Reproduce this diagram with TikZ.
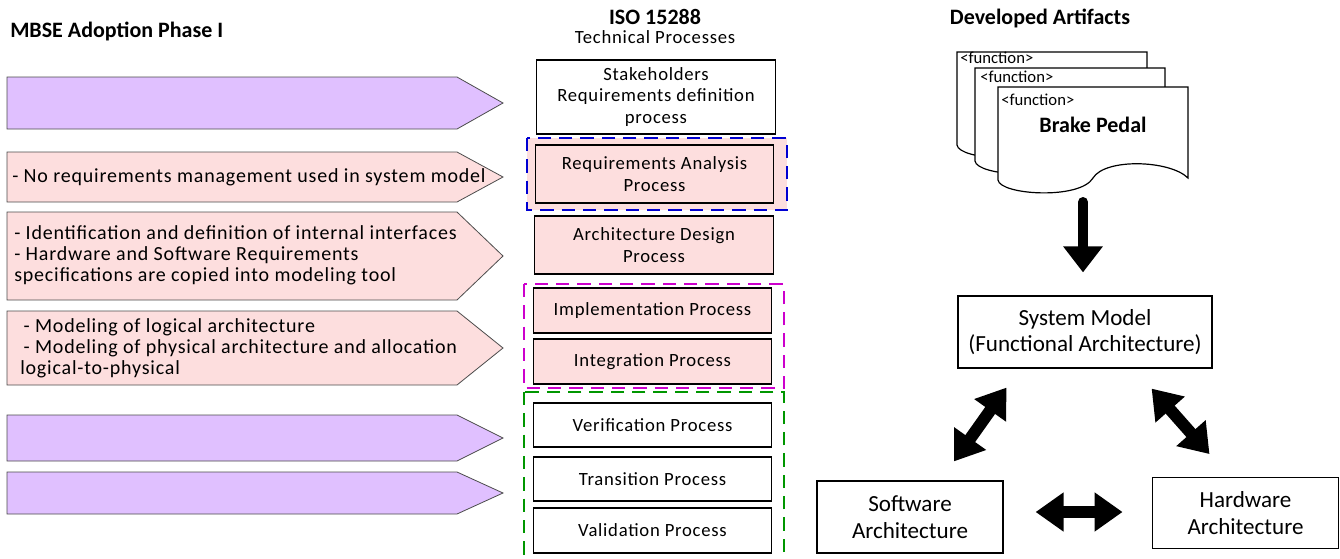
\documentclass[tikz,border=0pt]{standalone}
\usepackage{fontspec}
\setmainfont{Carlito}
\newfontfamily\wide{Carlito}[LetterSpace=4.0]
\usetikzlibrary{arrows.meta,calc}

\definecolor{phasepurple}{RGB}{224,192,255}
\definecolor{phasepink}{RGB}{253,222,222}
\definecolor{grpblue}{RGB}{0,0,210}
\definecolor{grpmagenta}{RGB}{204,0,204}
\definecolor{grpgreen}{RGB}{0,150,0}

\newcommand\headfont{\bfseries\fontsize{16.5}{19}\selectfont}
\newcommand\notefont{\wide\fontsize{15}{15.8}\selectfont}
\newcommand\procfont{\wide\fontsize{14}{16.2}\selectfont}
\newcommand\artfont{\fontsize{17.3}{20}\selectfont}

\begin{document}
\begin{tikzpicture}[x=0.75pt, y=-0.75pt,
    procbox/.style={draw, line width=0.9pt, minimum width=179pt, align=center, font=\procfont, inner sep=2pt},
    artbox/.style={draw, line width=0.9pt, align=center, font=\artfont},
    note/.style={anchor=west, align=left, inner sep=0pt, font=\notefont},
    group/.style={line width=1.1pt, dash pattern=on 10pt off 6pt},
    bigarrow/.style={line width=9pt, {Triangle[length=21pt,width=28pt]}-{Triangle[length=21pt,width=28pt]}}]
    \useasboundingbox (0,0) rectangle (1340,558);

    % phase arrows on the left
    \foreach \top/\bot/\col in {77/129/phasepurple, 152/202/phasepink, 212/300/phasepink,
                                311/385/phasepink, 415/461/phasepurple, 472/514/phasepurple}
        \draw[black!70, line width=0.6pt, fill=\col]
            (7,\top) -- (457,\top) -- (503,{(\top+\bot)/2}) -- (457,\bot) -- (7,\bot) -- cycle;

    \node[anchor=west, inner sep=0pt, font=\headfont] (phase) at (10,31) {MBSE Adoption Phase I};
    \node[note] (noreq) at (12,177) {- No requirements management used in system model};
    \node[note] (ifaces) at (14,255) {- Identification and definition of internal interfaces\\
        - Hardware and Software Requirements\\specifications are copied into modeling tool};
    \node[note] (logphys) at (20,348) {\,- Modeling of logical architecture\\
        \,- Modeling of physical architecture and allocation\\logical-to-physical};

    % ISO 15288 process column
    \node[font=\headfont] (iso) at (655,17) {ISO 15288};
    \node[font=\procfont] (techproc) at (655,37) {Technical Processes};

    \draw[group, grpblue, fill=phasepink] (527,138) rectangle (787,210);
    \draw[group, grpmagenta] (524,284) rectangle (784,388);
    \draw[group, grpgreen] (524,392) rectangle (784,566);

    \node[procbox, minimum height=55.5pt] (stake) at (656,97) {Stakeholders\\Requirements definition\\process};
    \node[procbox, minimum height=43.5pt, fill=phasepink] (reqana) at (654.5,174) {Requirements Analysis\\Process};
    \node[procbox, minimum height=43.5pt, fill=phasepink] (archdes) at (654,245) {Architecture Design\\Process};
    \node[procbox, minimum height=33.75pt, fill=phasepink] (impl) at (652.5,310.5) {Implementation Process};
    \node[procbox, minimum height=33.75pt, fill=phasepink] (integ) at (652.5,361.5) {Integration Process};
    \node[procbox, minimum height=33pt] (verif) at (652.5,425) {Verification Process};
    \node[procbox, minimum height=33pt] (trans) at (652.5,479) {Transition Process};
    \node[procbox, minimum height=33.75pt] (valid) at (652.5,530.5) {Validation Process};

    % developed artifacts
    \node[font=\headfont] (artifacts) at (1040,18) {Developed Artifacts};
    \foreach \dx/\dy in {957/52, 975/68, 998/87}
        \draw[line width=0.9pt, fill=white, shift={(\dx,\dy)}]
            (0,0) -- (190,0) -- (190,91)
            .. controls (172,73) and (107,71) .. (95,91)
            .. controls (82,113) and (2,108) .. (0,93) -- cycle;
    \node[anchor=west, inner sep=0pt, font=\fontsize{12.5}{14}\selectfont] (func1) at (960,58) {<function>};
    \node[anchor=west, inner sep=0pt, font=\fontsize{12.5}{14}\selectfont] (func2) at (980,77) {<function>};
    \node[anchor=west, inner sep=0pt, font=\fontsize{12.5}{14}\selectfont] (func3) at (1001,100) {<function>};
    \node[font=\headfont] (brake) at (1093,125) {Brake Pedal};
    \coordinate (docbase) at (1083,202);

    \node[artbox, minimum width=190.5pt, minimum height=54pt] (sysmodel) at (1085,332) {System Model\\(Functional Architecture)};
    \node[artbox, minimum width=139.5pt, minimum height=54pt] (software) at (910,517) {Software\\Architecture};
    \node[artbox, minimum width=140pt, minimum height=53pt] (hardware) at (1245.5,513) {Hardware\\Architecture};

    \draw[line width=7.5pt, line cap=round, -{Triangle[length=19.5pt,width=28.5pt]}]
        (docbase) -- ($(sysmodel.north)+(-2,-23)$);
    \draw[bigarrow] ($(sysmodel.south west)+(49,19)$) -- ($(software.north)+(44,-19)$);
    \draw[bigarrow] ($(sysmodel.south east)+(-61,20)$) -- ($(hardware.north)+(-36,-23)$);
    \draw[bigarrow] ($(software.east)+(32,-5)$) -- ($(hardware.west)+(-29,-1)$);
\end{tikzpicture}
\end{document}
